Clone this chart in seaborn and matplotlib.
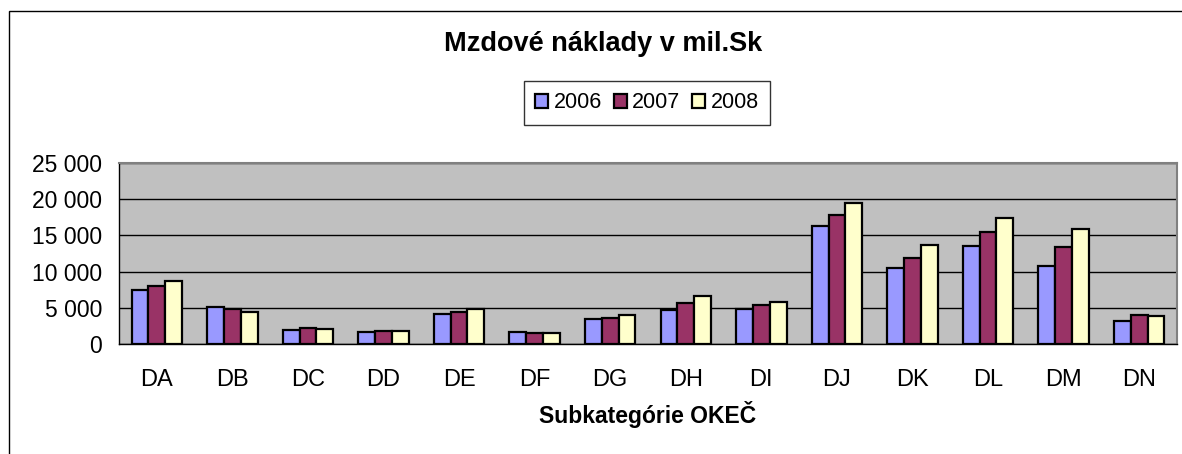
import pandas as pd
import matplotlib
matplotlib.use("Agg")
import matplotlib.pyplot as plt
import seaborn as sns
from matplotlib.patches import Rectangle
from matplotlib.ticker import FuncFormatter, FixedLocator

# values (mil. Sk)
categories = ["DA", "DB", "DC", "DD", "DE", "DF", "DG", "DH", "DI", "DJ", "DK", "DL", "DM", "DN"]
years = ["2006", "2007", "2008"]
vals_2006 = [7400, 5050, 1950, 1700, 4100, 1650, 3400, 4700, 4850, 16250, 10450, 13600, 10800, 3150]
vals_2007 = [7950, 4900, 2200, 1800, 4450, 1550, 3550, 5600, 5450, 17800, 11900, 15500, 13350, 3950]
vals_2008 = [8700, 4400, 2050, 1850, 4850, 1550, 3950, 6650, 5800, 19450, 13650, 17450, 15900, 3800]
colors = ["#9999FF", "#993366", "#FFFFCC"]

W, H = 1182, 454

sns.set_style("white")
plt.rcParams["font.family"] = ["Liberation Sans", "DejaVu Sans"]
plt.rcParams.update({"text.color": "black", "axes.labelcolor": "black",
                     "xtick.color": "black", "ytick.color": "black"})

df = pd.DataFrame({
    "kat": categories * 3,
    "rok": [y for y in years for _ in categories],
    "hodnota": vals_2006 + vals_2007 + vals_2008,
})

fig = plt.figure(figsize=(W / 100, H / 100), dpi=100)
ax = fig.add_axes([119 / W, (H - 344) / H, (1177 - 119) / W, (344 - 163) / H])
ax.set_facecolor("#C0C0C0")

sns.barplot(data=df, x="kat", y="hodnota", hue="rok", order=categories,
            hue_order=years, palette=colors, width=0.667, gap=0,
            edgecolor="black", linewidth=1.6, saturation=1, ax=ax, legend=True)

ax.set_xlim(-0.5, len(categories) - 0.5)
ax.set_ylim(0, 25000)
ax.set_yticks(range(0, 25001, 5000))
ax.yaxis.set_major_formatter(FuncFormatter(lambda v, p: f"{int(v):,}".replace(",", " ")))
ax.grid(axis="y", color="black", linewidth=1)
ax.set_axisbelow(True)

# category separators as ticks, labels centred between them
ax.xaxis.set_minor_locator(FixedLocator([i - 0.5 for i in range(len(categories) + 1)]))
ax.tick_params(axis="x", which="major", length=0, pad=18, labelsize=17)
ax.tick_params(axis="x", which="minor", length=7, width=1, color="black", direction="out")
ax.tick_params(axis="y", length=6, width=1, color="black", direction="out", pad=6, labelsize=16.5)

for side in ["top", "right"]:
    ax.spines[side].set_color("#808080")
    ax.spines[side].set_linewidth(1.5)
for side in ["left", "bottom"]:
    ax.spines[side].set_color("black")
    ax.spines[side].set_linewidth(1)

ax.set_xlabel("Subkategórie OKEČ", fontsize=16.5, fontweight="bold", labelpad=7)
ax.set_ylabel("")

fig.text(603 / W, 1 - 44 / H, "Mzdové náklady v mil.Sk", ha="center", va="center",
         fontsize=19.5, fontweight="bold")

handles, labels = ax.get_legend_handles_labels()
ax.get_legend().remove()
leg = fig.legend(handles, labels, loc="center", bbox_to_anchor=(647 / W, 1 - 103 / H),
                 ncol=3, frameon=True, fancybox=False, edgecolor="black", fontsize=15.5,
                 handlelength=0.6, handleheight=0.6, handletextpad=0.25,
                 columnspacing=0.55, borderpad=0.55)
leg.get_frame().set_linewidth(1)

# outer chart frame (left and top edges visible)
fig.patches.append(Rectangle((9 / W, -0.1), 1.1, 1.1 - 11 / H, transform=fig.transFigure,
                             fill=False, edgecolor="black", linewidth=1))

fig.savefig("out.png", dpi=100)
